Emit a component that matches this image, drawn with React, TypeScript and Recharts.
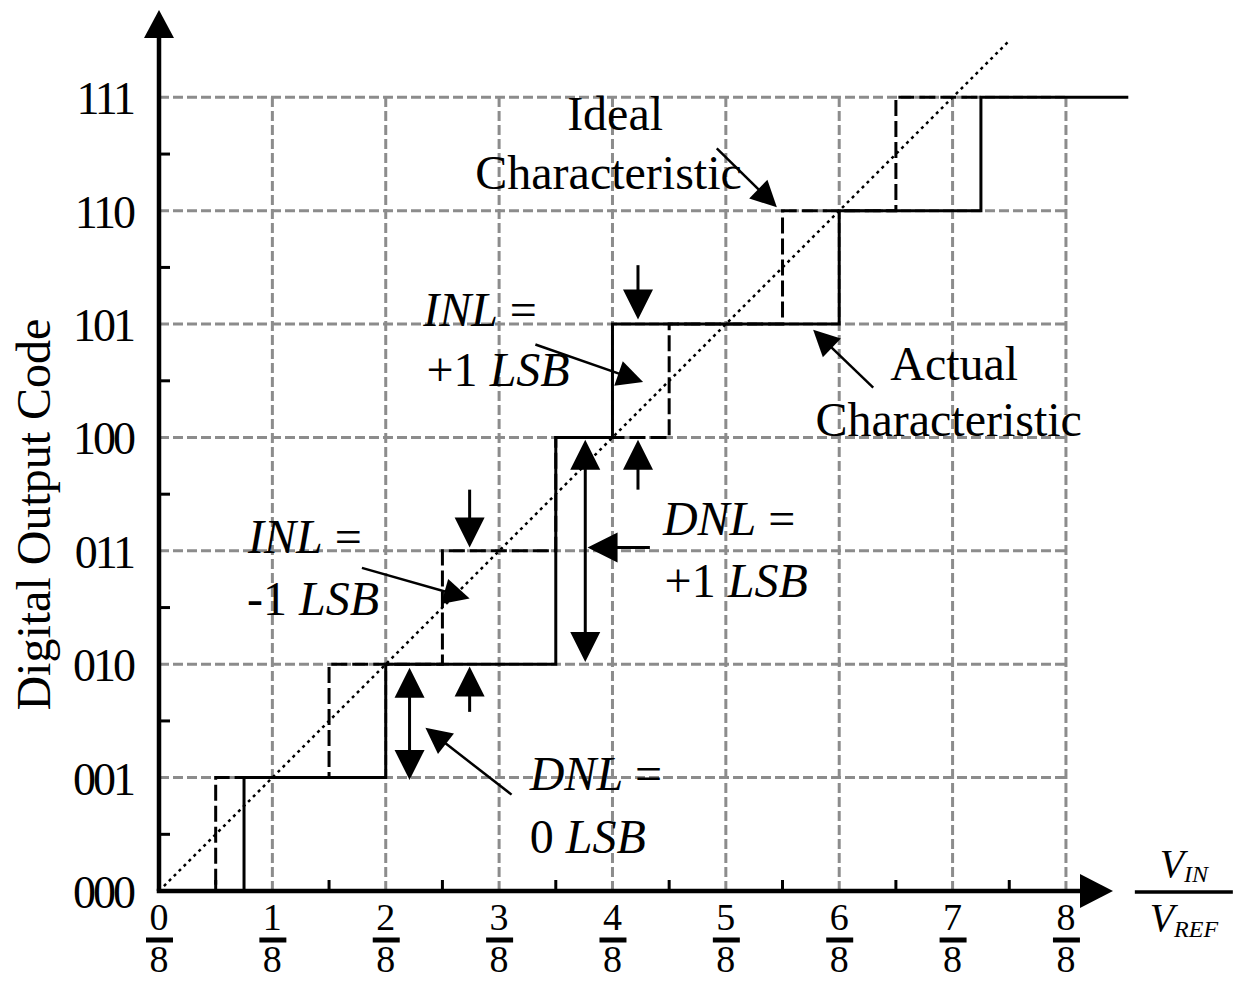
import { LineChart, Line, XAxis, YAxis, ReferenceLine, ReferenceDot } from "recharts"

// x axis: numerators of n/8 (V_IN / V_REF)
const fracNumerators = [0, 1, 2, 3, 4, 5, 6, 7, 8]
const fracDenominator = 8
// y axis: 3-bit output codes
const codeValues = [0, 1, 2, 3, 4, 5, 6, 7]
const codeLabels = ["000", "001", "010", "011", "100", "101", "110", "111"]
const minorX = [0.5, 1.5, 2.5, 3.5, 4.5, 5.5, 6.5, 7.5]
const minorY = [0.5, 1.5, 2.5, 3.5, 4.5, 5.5, 6.5]

// ideal transfer: code k starts at (k - 0.5)/8
const idealX = [0, 0.5, 1.5, 2.5, 3.5, 4.5, 5.5, 6.5, 7.25]
const idealCode = [0, 1, 2, 3, 4, 5, 6, 7, 7]
// actual transfer (code 011 missing)
const actualX = [0, 0.75, 2, 3.5, 4, 6, 7.25, 8.55]
const actualCode = [0, 1, 2, 4, 5, 6, 7, 7]
// straight ideal line
const diagX = [0, 7.5]
const diagY = [0, 7.5]

const gridMaxX = 8
const gridMaxY = 7

const FONT = "'Liberation Serif', 'Times New Roman', serif"

const xTicks = [...fracNumerators, ...minorX].sort((a, b) => a - b)
const yTicks = [...codeValues, ...minorY].sort((a, b) => a - b)
const idealData = idealX.map((x, i) => ({ x, y: idealCode[i] }))
const actualData = actualX.map((x, i) => ({ x, y: actualCode[i] }))
const diagData = diagX.map((x, i) => ({ x, y: diagY[i] }))
const vGrid = fracNumerators.slice(1).map((n) => [{ x: n, y: 0 }, { x: n, y: gridMaxY }])
const hGrid = codeValues.slice(1).map((c) => [{ x: 0, y: c }, { x: gridMaxX, y: c }])

// annotation arrows, in data units
const arrows = [
  { from: [4.92, 6.55], to: [5.45, 6.03], both: false, big: false },
  { from: [3.32, 4.82], to: [4.27, 4.49], both: false, big: false },
  { from: [4.225, 5.52], to: [4.225, 5.04], both: false, big: true },
  { from: [4.225, 3.54], to: [4.225, 3.98], both: false, big: true },
  { from: [1.79, 2.85], to: [2.74, 2.58], both: false, big: false },
  { from: [2.74, 3.54], to: [2.74, 3.03], both: false, big: true },
  { from: [2.74, 1.58], to: [2.74, 1.98], both: false, big: true },
  { from: [3.76, 2.02], to: [3.76, 3.98], both: true, big: true },
  { from: [4.33, 3.03], to: [3.78, 3.03], both: false, big: true },
  { from: [2.21, 0.98], to: [2.21, 1.97], both: true, big: true },
  { from: [3.11, 0.85], to: [2.35, 1.44], both: false, big: false },
  { from: [6.3, 4.44], to: [5.77, 4.95], both: false, big: false },
]

const notes: { x: number; y: number; parts: [string, boolean][] }[] = [
  { x: 3.6, y: 6.71, parts: [["Ideal", false]] },
  { x: 2.79, y: 6.19, parts: [["Characteristic", false]] },
  { x: 2.33, y: 4.98, parts: [["INL", true], [" =", false]] },
  { x: 2.36, y: 4.45, parts: [["+1 ", false], ["LSB", true]] },
  { x: 0.785, y: 2.98, parts: [["INL", true], [" =", false]] },
  { x: 0.776, y: 2.43, parts: [["-1 ", false], ["LSB", true]] },
  { x: 4.445, y: 3.14, parts: [["DNL", true], [" =", false]] },
  { x: 4.46, y: 2.59, parts: [["+1 ", false], ["LSB", true]] },
  { x: 3.27, y: 0.89, parts: [["DNL", true], [" =", false]] },
  { x: 3.27, y: 0.335, parts: [["0 ", false], ["LSB", true]] },
  { x: 6.45, y: 4.51, parts: [["Actual", false]] },
  { x: 5.79, y: 4.01, parts: [["Characteristic", false]] },
]

const arrowShape = (len: number, half: number, width: number, both: boolean) => (p: any) => {
  const { x1, y1, x2, y2 } = p
  const dx = x2 - x1
  const dy = y2 - y1
  const d = Math.hypot(dx, dy) || 1
  const ux = dx / d
  const uy = dy / d
  const nx = -uy
  const ny = ux
  const head = (tx: number, ty: number, sx: number, sy: number) => {
    const bx = tx - sx * len
    const by = ty - sy * len
    return `${tx},${ty} ${bx + nx * half},${by + ny * half} ${bx - nx * half},${by - ny * half}`
  }
  const sx = both ? x1 + ux * len * 0.6 : x1
  const sy = both ? y1 + uy * len * 0.6 : y1
  return (
    <g>
      <line x1={sx} y1={sy} x2={x2 - ux * len * 0.6} y2={y2 - uy * len * 0.6} stroke="#000" strokeWidth={width} />
      <polygon points={head(x2, y2, ux, uy)} fill="#000" />
      {both && <polygon points={head(x1, y1, -ux, -uy)} fill="#000" />}
    </g>
  )
}

const XTick = (props: any) => {
  const { x, y, payload } = props
  if (!Number.isInteger(payload.value)) {
    return <line x1={x} x2={x} y1={y} y2={y - 11} stroke="#000" strokeWidth={3} />
  }
  return (
    <g fontFamily={FONT} fontSize={38} fill="#000">
      <text x={x} y={y + 39} textAnchor="middle">{payload.value}</text>
      <line x1={x - 13} x2={x + 14} y1={y + 49} y2={y + 49} stroke="#000" strokeWidth={5} />
      <text x={x} y={y + 81} textAnchor="middle">{fracDenominator}</text>
    </g>
  )
}

const YTick = (props: any) => {
  const { x, y, payload } = props
  if (!Number.isInteger(payload.value)) {
    return <line x1={x} x2={x + 11} y1={y} y2={y} stroke="#000" strokeWidth={3} />
  }
  return (
    <text x={x - 26} y={y + 17} textAnchor="end" fontFamily={FONT} fontSize={46} letterSpacing={-3} fill="#000">
      {codeLabels[payload.value]}
    </text>
  )
}

export default function App() {
  return (
    <div style={{ position: "absolute", left: 0, top: 0, width: 1245, height: 981, background: "#fff" }}>
      <LineChart width={1245} height={981} margin={{ top: 1, right: 9, bottom: 0, left: 0 }}>
        <XAxis
          dataKey="x"
          type="number"
          domain={[0, 9.5]}
          allowDataOverflow
          ticks={xTicks}
          interval={0}
          tick={<XTick />}
          tickLine={false}
          axisLine={false}
          tickSize={0}
          tickMargin={0}
          height={90}
        />
        <YAxis
          type="number"
          domain={[0, 7.85]}
          allowDataOverflow
          ticks={yTicks}
          interval={0}
          tick={<YTick />}
          tickLine={false}
          axisLine={false}
          tickSize={0}
          tickMargin={0}
          width={159}
        />

        {vGrid.map((d, i) => (
          <Line key={"v" + i} data={d} dataKey="y" type="linear" stroke="#8c8c8c" strokeWidth={3}
            strokeDasharray="10 4" dot={false} activeDot={false} isAnimationActive={false} />
        ))}
        {hGrid.map((d, i) => (
          <Line key={"h" + i} data={d} dataKey="y" type="linear" stroke="#8c8c8c" strokeWidth={3}
            strokeDasharray="10 4" dot={false} activeDot={false} isAnimationActive={false} />
        ))}

        <Line data={idealData} dataKey="y" type="stepAfter" stroke="#000" strokeWidth={3}
          strokeDasharray="16 5" dot={false} activeDot={false} isAnimationActive={false} />
        <Line data={diagData} dataKey="y" type="linear" stroke="#000" strokeWidth={2.5}
          strokeDasharray="3 4" dot={false} activeDot={false} isAnimationActive={false} />
        <Line data={actualData} dataKey="y" type="stepAfter" stroke="#000" strokeWidth={3}
          dot={false} activeDot={false} isAnimationActive={false} />

        {/* axes with arrow heads */}
        <ReferenceLine segment={[{ x: 0, y: 0 }, { x: 0, y: 7.77 }]} ifOverflow="visible"
          shape={arrowShape(28, 15, 4.5, false)} />
        <ReferenceLine segment={[{ x: -0.02, y: 0 }, { x: 8.415, y: 0 }]} ifOverflow="visible"
          shape={arrowShape(33, 17, 4.5, false)} />

        {arrows.map((a, i) => (
          <ReferenceLine key={"a" + i} ifOverflow="visible"
            segment={[{ x: a.from[0], y: a.from[1] }, { x: a.to[0], y: a.to[1] }]}
            shape={a.big ? arrowShape(30, 15, 3, a.both) : arrowShape(26, 13, 2.5, a.both)} />
        ))}

        {notes.map((n, i) => (
          <ReferenceDot key={"n" + i} x={n.x} y={n.y} r={0} ifOverflow="visible"
            shape={(p: any) => (
              <text x={p.cx} y={p.cy} fontFamily={FONT} fontSize={48} fill="#000">
                {n.parts.map(([t, it], j) => (
                  <tspan key={j} fontStyle={it ? "italic" : "normal"}>{t}</tspan>
                ))}
              </text>
            )} />
        ))}

        <ReferenceDot x={-0.96} y={3.32} r={0} ifOverflow="visible"
          shape={(p: any) => (
            <text x={p.cx} y={p.cy} transform={`rotate(-90, ${p.cx}, ${p.cy})`} textAnchor="middle"
              fontFamily={FONT} fontSize={48} fill="#000">
              Digital Output Code
            </text>
          )} />

        <ReferenceDot x={9.04} y={0} r={0} ifOverflow="visible"
          shape={(p: any) => (
            <g fontFamily={FONT} fill="#000" fontStyle="italic">
              <text x={p.cx} y={p.cy - 14} textAnchor="middle" fontSize={40}>
                V<tspan fontSize={24} dy={5}>IN</tspan>
              </text>
              <line x1={p.cx - 49} x2={p.cx + 49} y1={p.cy + 1} y2={p.cy + 1} stroke="#000" strokeWidth={3.5} />
              <text x={p.cx} y={p.cy + 40} textAnchor="middle" fontSize={40}>
                V<tspan fontSize={24} dy={6}>REF</tspan>
              </text>
            </g>
          )} />
      </LineChart>
    </div>
  )
}
